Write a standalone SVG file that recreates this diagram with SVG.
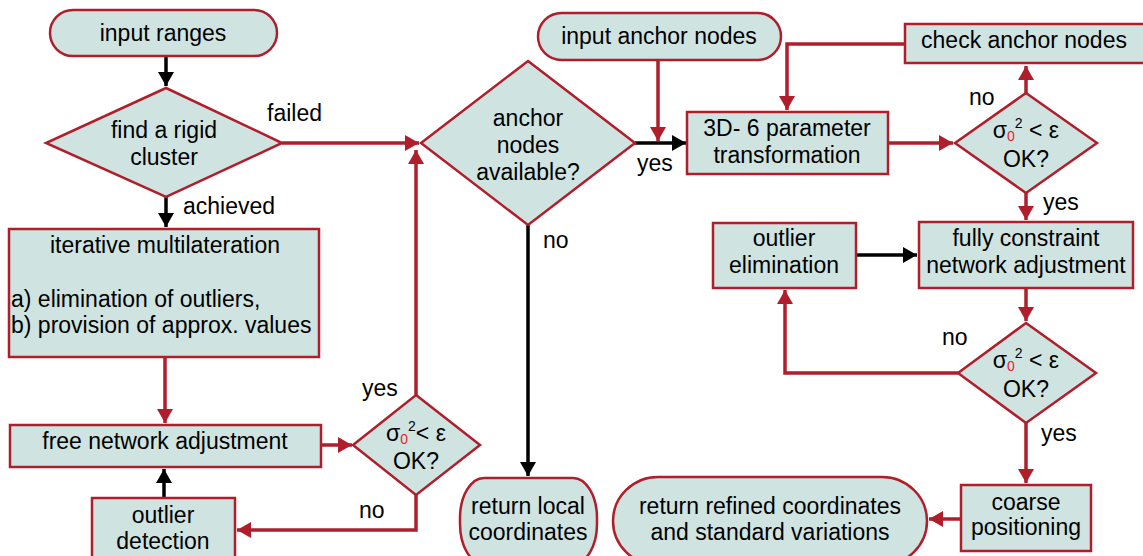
<svg xmlns="http://www.w3.org/2000/svg" width="1143" height="556" viewBox="0 0 1143 556">
<style>
.n{fill:#cfe4e0;stroke:#b01e2c;stroke-width:2.5}
text{font-family:"Liberation Sans",Arial,sans-serif;font-size:23px;fill:#000}
.c{text-anchor:middle}
.r{fill:none;stroke:#b01e2c;stroke-width:3.5}
.k{fill:none;stroke:#000;stroke-width:3.5}
.sub{fill:#e8202e;font-size:14px}
.sup{font-size:14px}
</style>
<defs>
<marker id="ar" viewBox="0 0 14 16" markerWidth="14" markerHeight="16" refX="14" refY="8" orient="auto" markerUnits="userSpaceOnUse"><path d="M0,0L14,8L0,16z" fill="#b01e2c"/></marker>
<marker id="ak" viewBox="0 0 14 16" markerWidth="14" markerHeight="16" refX="14" refY="8" orient="auto" markerUnits="userSpaceOnUse"><path d="M0,0L14,8L0,16z" fill="#000"/></marker>
</defs>
<rect width="1143" height="556" fill="#fff"/>
<g id="connectors">
<path class="k" d="M166,56V86" marker-end="url(#ak)"/>
<path class="k" d="M166,197V227" marker-end="url(#ak)"/>
<path class="r" d="M282,143H419" marker-end="url(#ar)"/>
<path class="r" d="M165,357V423" marker-end="url(#ar)"/>
<path class="r" d="M321,445H352" marker-end="url(#ar)"/>
<path class="r" d="M416,395V150" marker-end="url(#ar)"/>
<path class="r" d="M416,495V530H237" marker-end="url(#ar)"/>
<path class="k" d="M164,498V469" marker-end="url(#ak)"/>
<path class="k" d="M635,143H686" marker-end="url(#ak)"/>
<path class="r" d="M658,61V141" marker-end="url(#ar)"/>
<path class="k" d="M528,225V476" marker-end="url(#ak)"/>
<path class="r" d="M888,143H953" marker-end="url(#ar)"/>
<path class="r" d="M1026,93V66" marker-end="url(#ar)"/>
<path class="r" d="M905,44H787V110" marker-end="url(#ar)"/>
<path class="r" d="M1026,193V220" marker-end="url(#ar)"/>
<path class="k" d="M856,255H917" marker-end="url(#ak)"/>
<path class="r" d="M1026,288V321" marker-end="url(#ar)"/>
<path class="r" d="M958,373H785V290" marker-end="url(#ar)"/>
<path class="r" d="M1026,423V483" marker-end="url(#ar)"/>
<path class="r" d="M961,519H929" marker-end="url(#ar)"/>
</g>
<g id="labels">
<text x="267" y="121">failed</text>
<text x="183" y="214">achieved</text>
<text x="362" y="396">yes</text>
<text x="359" y="518">no</text>
<text x="637" y="171">yes</text>
<text x="543" y="248">no</text>
<text x="969" y="105">no</text>
<text x="1043" y="210">yes</text>
<text x="942" y="345">no</text>
<text x="1041" y="441">yes</text>
</g>
<g id="input-ranges"><rect class="n" x="50" y="10" width="227" height="46" rx="23" ry="23"/><text class="c" x="163" y="41">input ranges</text></g>
<g id="find-rigid"><path class="n" d="M166,88L282,143L166,197L46,143z"/><text class="c" x="164" y="138">find a rigid</text><text class="c" x="164" y="165">cluster</text></g>
<g id="multilateration"><rect class="n" x="9" y="229" width="310" height="128"/><text class="c" x="165" y="253">iterative multilateration</text><text x="11" y="307">a) elimination of outliers,</text><text x="11" y="333">b) provision of approx. values</text></g>
<g id="free-adjust"><rect class="n" x="10" y="425" width="311" height="42"/><text class="c" x="165" y="449">free network adjustment</text></g>
<g id="check-left"><path class="n" d="M416,395L480,445L416,495L353,445z"/><text class="c" x="416" y="441">σ<tspan class="sub" dy="3">0</tspan><tspan class="sup" dy="-13">2</tspan><tspan dy="10">&lt; ε</tspan></text><text class="c" x="416" y="469">OK?</text></g>
<g id="outlier-detection"><rect class="n" x="92" y="498" width="143" height="62"/><text class="c" x="163" y="523">outlier</text><text class="c" x="163" y="549">detection</text></g>
<g id="anchor-avail"><path class="n" d="M528,61L635,143L528,225L421,143z"/><text class="c" x="528" y="126">anchor</text><text class="c" x="528" y="153">nodes</text><text class="c" x="528" y="180">available?</text></g>
<g id="input-anchor"><rect class="n" x="538" y="13" width="243" height="47" rx="23.5" ry="23.5"/><text class="c" x="659" y="44">input anchor nodes</text></g>
<g id="transform"><rect class="n" x="687" y="112" width="201" height="62"/><text class="c" x="787" y="136">3D- 6 parameter</text><text class="c" x="787" y="163">transformation</text></g>
<g id="check-top"><path class="n" d="M1026,93L1097,143L1026,193L955,143z"/><text class="c" x="1026" y="138">σ<tspan class="sub" dy="3">0</tspan><tspan class="sup" dy="-13">2</tspan><tspan dy="10"> &lt; ε</tspan></text><text class="c" x="1026" y="167">OK?</text></g>
<g id="check-anchor"><rect class="n" x="905" y="24" width="240" height="39"/><text class="c" x="1024" y="48">check anchor nodes</text></g>
<g id="fully-adjust"><rect class="n" x="919" y="222" width="214" height="66"/><text class="c" x="1026" y="246">fully constraint</text><text class="c" x="1026" y="273">network adjustment</text></g>
<g id="outlier-elim"><rect class="n" x="713" y="223" width="143" height="65"/><text class="c" x="784" y="246">outlier</text><text class="c" x="784" y="273">elimination</text></g>
<g id="check-bottom"><path class="n" d="M1026,323L1096,373L1026,423L958,373z"/><text class="c" x="1026" y="368">σ<tspan class="sub" dy="3">0</tspan><tspan class="sup" dy="-13">2</tspan><tspan dy="10"> &lt; ε</tspan></text><text class="c" x="1026" y="397">OK?</text></g>
<g id="coarse"><rect class="n" x="961" y="485" width="130" height="66"/><text class="c" x="1026" y="510">coarse</text><text class="c" x="1026" y="535">positioning</text></g>
<g id="return-local"><rect class="n" x="460" y="478" width="137" height="86" rx="24" ry="40"/><text class="c" x="528" y="514">return local</text><text class="c" x="528" y="540">coordinates</text></g>
<g id="return-refined"><rect class="n" x="613" y="477" width="314" height="88" rx="45" ry="44"/><text class="c" x="770" y="514">return refined coordinates</text><text class="c" x="770" y="540">and standard variations</text></g>
</svg>
